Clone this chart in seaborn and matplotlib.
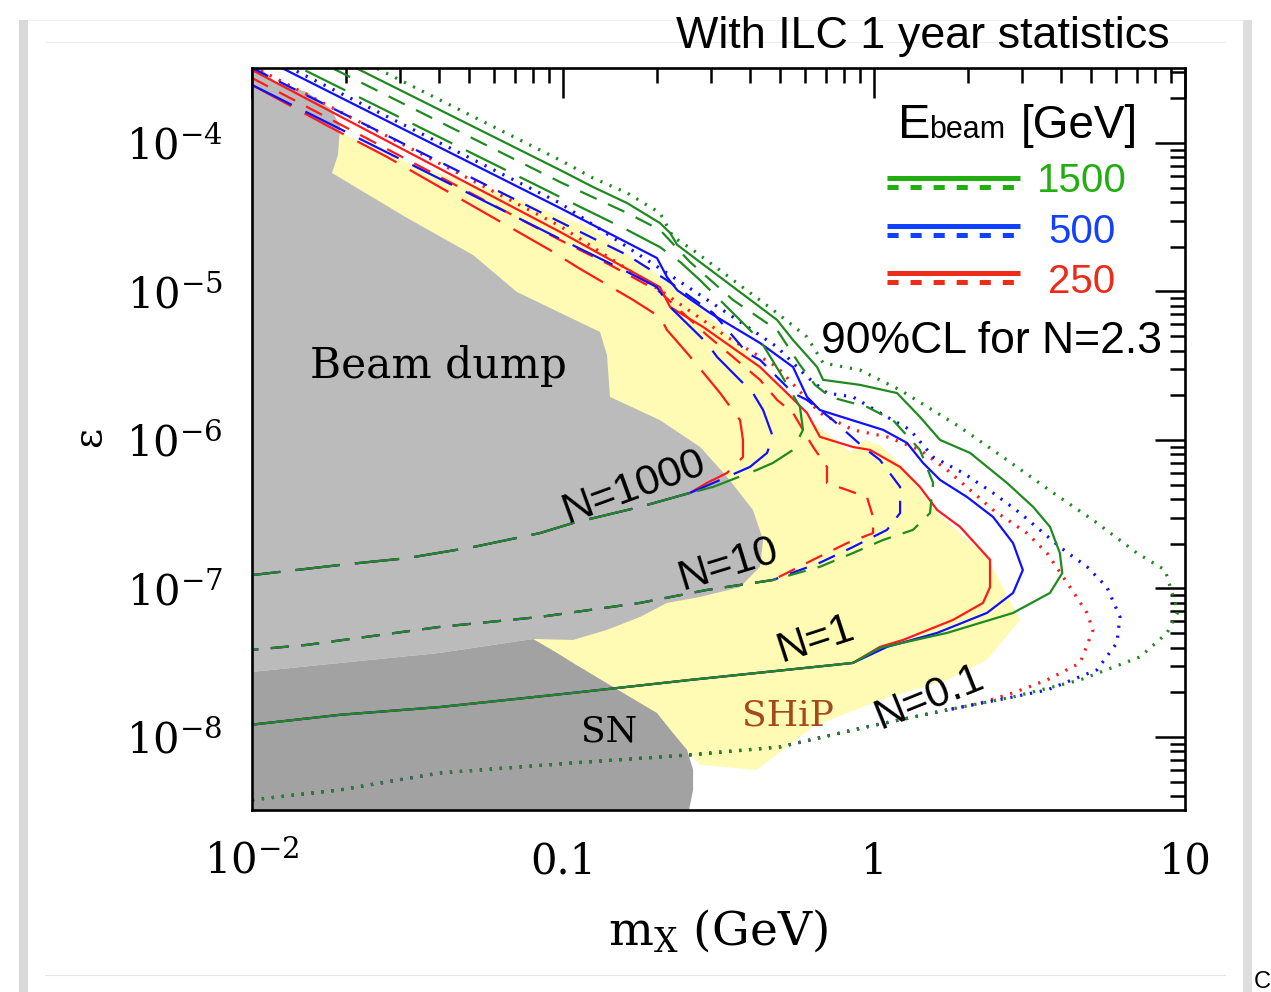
import matplotlib
matplotlib.use("Agg")
import matplotlib.pyplot as plt
from matplotlib.lines import Line2D
from matplotlib.patches import Rectangle
from matplotlib.ticker import FixedLocator, LogLocator, NullFormatter
from matplotlib.transforms import ScaledTranslation
import numpy as np
import pandas as pd
import seaborn as sns

# ------------------------------------------------------------------ data
ENERGIES = ["250", "500", "1500"]
ENERGY_LABELS = ["1500", "500", "250"]

# Beam dump excluded region (m [GeV], epsilon)
BD_M = [0.0100, 0.01186, 0.01503, 0.0178, 0.0192, 0.0189, 0.01808, 0.0315, 0.0514, 0.0711,
        0.1315, 0.1385, 0.1416, 0.205, 0.276, 0.337, 0.408, 0.440, 0.430, 0.371, 0.276,
        0.216, 0.1769, 0.1385, 0.1077, 0.0801, 0.0402, 0.0192, 0.0100]
BD_EPS = [3.62e-4, 2.58e-4, 2.20e-4, 1.72e-4, 1.32e-4, 8.30e-5, 6.28e-5, 3.13e-5, 1.76e-5, 9.92e-6,
          5.34e-6, 3.74e-6, 1.95e-6, 1.36e-6, 8.97e-7, 5.64e-7, 3.38e-7, 2.12e-7, 1.40e-7, 1.02e-7, 8.77e-8,
          7.99e-8, 6.43e-8, 5.26e-8, 4.50e-8, 4.57e-8, 3.68e-8, 3.15e-8, 2.74e-8]

# Supernova region
SN_M = [0.0100, 0.0192, 0.0402, 0.0801, 0.0957, 0.1077, 0.156, 0.2005, 0.226, 0.2506, 0.262, 0.262, 0.2523, 0.0100]
SN_EPS = [2.74e-8, 3.15e-8, 3.68e-8, 4.57e-8, 3.68e-8, 3.15e-8, 1.98e-8, 1.45e-8, 1.06e-8, 8.18e-9, 6.0e-9, 4.40e-9, 2.98e-9, 2.98e-9]

# SHiP sensitivity region
SHIP_M = [0.0192, 0.0329, 0.0661, 0.1221, 0.256, 0.430, 0.622, 0.749, 0.837, 0.936, 1.045, 1.240, 1.596,
          2.307, 2.95, 2.307, 1.718, 1.045, 0.637, 0.420, 0.276, 0.245, 0.078, 0.040, 0.0178]
SHIP_EPS = [1.17e-4, 7.11e-5, 4.47e-5, 2.68e-5, 9.04e-6, 3.20e-6, 1.36e-6, 1.00e-6, 8.30e-7, 1.00e-6, 9.25e-7, 6.58e-7, 3.22e-7,
            1.63e-7, 6.14e-8, 3.30e-8, 2.42e-8, 1.77e-8, 1.17e-8, 6.0e-9, 6.48e-9, 8.5e-9, 4.6e-8, 1.5e-6, 6.09e-5]

# Shared lower branches (same for all beam energies), right to left
LOW_N01_M = [1.718, 0.949, 0.499, 0.256, 0.1077, 0.0402, 0.0192, 0.0100]
LOW_N01_EPS = [1.52e-8, 1.17e-8, 8.57e-9, 7.57e-9, 6.68e-9, 5.72e-9, 4.40e-9, 3.77e-9]
LOW_N1_M = [0.855, 0.256, 0.1077, 0.0402, 0.0192, 0.0100]
LOW_N1_EPS = [3.15e-8, 2.42e-8, 1.98e-8, 1.59e-8, 1.41e-8, 1.21e-8]
LOW_N10_M = [0.473, 0.290, 0.1769, 0.0843, 0.0402, 0.01503, 0.0100]
LOW_N10_EPS = [1.14e-7, 9.77e-8, 7.99e-8, 6.43e-8, 5.51e-8, 4.17e-8, 3.86e-8]
LOW_N1000_M = [0.256, 0.1769, 0.1077, 0.0843, 0.0514, 0.0315, 0.0192, 0.0100]
LOW_N1000_EPS = [4.40e-7, 3.54e-7, 2.76e-7, 2.36e-7, 1.90e-7, 1.60e-7, 1.44e-7, 1.23e-7]

# E_beam = 1500 GeV upper branches
G_DOT_M = [0.0100, 0.0978, 0.1248, 0.1607, 0.205, 0.226, 0.262, 0.488, 0.609, 0.686, 0.901, 1.213, 1.891,
           2.679, 3.77, 5.06, 7.01, 8.63, 9.49, 8.76, 7.17, 4.60, 2.80]
G_DOT_EPS = [8.37e-4, 7.68e-5, 5.81e-5, 4.61e-5, 3.38e-5, 2.33e-5, 1.90e-5, 7.16e-6, 4.94e-6, 3.30e-6, 2.96e-6, 2.17e-6, 1.22e-6,
             7.33e-7, 4.40e-7, 2.89e-7, 1.73e-7, 1.33e-7, 6.95e-8, 5.02e-8, 3.46e-8, 2.42e-8, 1.86e-8]
G_SOL_M = [0.0100, 0.0978, 0.1248, 0.1607, 0.205, 0.221, 0.233, 0.262, 0.488, 0.549, 0.656, 0.686, 0.901, 1.186,
           1.405, 1.631, 2.037, 2.679, 3.25, 3.68, 3.96, 4.03, 3.68, 2.80, 1.718, 1.045]
G_SOL_EPS = [7.16e-4, 6.58e-5, 5.06e-5, 3.94e-5, 2.89e-5, 2.48e-5, 2.06e-5, 1.71e-5, 6.43e-6, 4.71e-6, 3.10e-6, 2.54e-6, 2.35e-6, 2.07e-6,
             1.43e-6, 1.00e-6, 8.18e-7, 5.13e-7, 3.54e-7, 2.60e-7, 1.73e-7, 1.27e-7, 9.33e-8, 6.84e-8, 5.02e-8, 3.98e-8]
G_SD_M = [0.0100, 0.0978, 0.1607, 0.205, 0.256, 0.352, 0.488, 0.578, 0.646, 0.722, 0.949, 1.151, 1.405, 1.549,
          1.514, 1.335, 1.069, 0.855, 0.670]
G_SD_EPS = [5.95e-4, 5.46e-5, 3.38e-5, 2.60e-5, 1.58e-5, 8.77e-6, 5.50e-6, 3.20e-6, 2.35e-6, 1.95e-6, 1.67e-6, 1.36e-6, 8.57e-7, 5.13e-7,
            3.22e-7, 2.48e-7, 2.12e-7, 1.73e-7, 1.40e-7]
G_LD_M = [0.0100, 0.0978, 0.1607, 0.205, 0.238, 0.276, 0.352, 0.430, 0.499, 0.578, 0.591, 0.549, 0.473, 0.420, 0.304]
G_LD_EPS = [4.64e-4, 4.33e-5, 2.60e-5, 1.99e-5, 1.58e-5, 1.19e-5, 7.16e-6, 4.71e-6, 2.83e-6, 1.67e-6, 1.17e-6, 8.57e-7, 7.00e-7, 6.28e-7, 4.83e-7]

# E_beam = 500 GeV upper branches
B_DOT_M = [0.0100, 0.0978, 0.216, 0.337, 0.488, 0.609, 0.706, 0.855, 1.101, 1.306, 1.549, 1.933, 2.415, 2.95,
           3.96, 4.84, 5.61, 6.18, 6.04, 5.21, 3.60, 2.80]
B_DOT_EPS = [4.30e-4, 3.94e-5, 1.33e-5, 7.16e-6, 4.23e-6, 2.66e-6, 2.07e-6, 1.95e-6, 1.43e-6, 1.17e-6, 7.68e-7, 6.00e-7, 4.40e-7, 3.22e-7,
             1.90e-7, 1.40e-7, 1.02e-7, 6.43e-8, 4.30e-8, 2.83e-8, 2.07e-8, 1.86e-8]
B_SOL_M = [0.0100, 0.0978, 0.2005, 0.216, 0.233, 0.297, 0.430, 0.549, 0.609, 0.670, 1.069, 1.277, 1.438, 1.631,
           1.991, 2.415, 2.80, 3.01, 2.80, 2.307, 1.596, 1.101]
B_SOL_EPS = [4.04e-4, 3.65e-5, 1.68e-5, 1.25e-5, 1.02e-5, 7.16e-6, 4.50e-6, 3.10e-6, 1.95e-6, 1.59e-6, 1.17e-6, 9.55e-7, 7.00e-7, 5.38e-7,
             4.13e-7, 3.03e-7, 2.02e-7, 1.33e-7, 9.33e-8, 6.84e-8, 5.02e-8, 4.04e-8]
B_SD_M = [0.0100, 0.0978, 0.1607, 0.216, 0.304, 0.391, 0.430, 0.549, 0.609, 0.738, 0.922, 1.045, 1.213, 1.213,
          1.101, 0.855, 0.670]
B_SD_EPS = [3.20e-4, 2.94e-5, 1.76e-5, 1.19e-5, 7.16e-6, 3.85e-6, 3.46e-6, 2.07e-6, 1.86e-6, 1.36e-6, 8.97e-7, 7.33e-7, 4.83e-7, 3.22e-7,
            2.48e-7, 1.90e-7, 1.49e-7]
B_LD_M = [0.0100, 0.0978, 0.156, 0.2005, 0.221, 0.290, 0.313, 0.408, 0.440, 0.473, 0.453, 0.399, 0.304]
B_LD_EPS = [2.46e-4, 2.26e-5, 1.40e-5, 1.07e-5, 7.86e-6, 4.50e-6, 3.62e-6, 2.07e-6, 1.59e-6, 1.05e-6, 8.18e-7, 6.58e-7, 5.13e-7]

# E_beam = 250 GeV upper branches
R_DOT_M = [0.0100, 0.0978, 0.205, 0.337, 0.488, 0.670, 0.855, 1.101, 1.405, 1.718, 2.037, 2.415, 3.10, 3.60,
           4.27, 4.84, 5.06, 4.60, 3.60, 2.80, 2.193]
R_DOT_EPS = [3.30e-4, 2.76e-5, 1.02e-5, 4.94e-6, 3.10e-6, 1.52e-6, 1.17e-6, 1.05e-6, 8.57e-7, 6.28e-7, 4.61e-7, 3.38e-7, 2.36e-7, 1.73e-7,
             1.02e-7, 6.84e-8, 5.26e-8, 3.15e-8, 2.42e-8, 1.98e-8, 1.69e-8]
R_SOL_M = [0.0100, 0.0978, 0.205, 0.221, 0.282, 0.430, 0.525, 0.609, 0.670, 0.855, 0.971, 1.213, 1.405, 1.596,
           1.891, 2.361, 2.361, 2.241, 1.795, 1.240, 1.045]
R_SOL_EPS = [3.10e-4, 2.52e-5, 1.07e-5, 7.86e-6, 5.77e-6, 3.10e-6, 2.07e-6, 1.52e-6, 1.05e-6, 8.97e-7, 8.57e-7, 6.58e-7, 4.83e-7, 3.38e-7,
             2.60e-7, 1.56e-7, 1.02e-7, 7.99e-8, 6.14e-8, 4.50e-8, 4.04e-8]
R_SD_M = [0.0100, 0.0978, 0.1416, 0.205, 0.290, 0.352, 0.430, 0.488, 0.549, 0.637, 0.706, 0.706, 0.949, 0.993,
          0.993, 0.819, 0.637]
R_SD_EPS = [2.74e-4, 2.22e-5, 1.51e-5, 9.92e-6, 5.09e-6, 3.62e-6, 2.54e-6, 1.86e-6, 1.52e-6, 8.97e-7, 6.58e-7, 5.13e-7, 4.13e-7, 3.03e-7,
            2.36e-7, 2.02e-7, 1.56e-7]
R_LD_M = [0.0100, 0.0178, 0.0272, 0.0908, 0.111, 0.168, 0.205, 0.216, 0.2506, 0.290, 0.320, 0.371, 0.379, 0.379, 0.337, 0.290]
R_LD_EPS = [2.46e-4, 1.28e-4, 8.05e-5, 1.90e-5, 1.46e-5, 8.77e-6, 6.73e-6, 5.50e-6, 3.85e-6, 2.66e-6, 2.07e-6, 1.36e-6, 1.00e-6,
            7.68e-7, 6.00e-7, 5.13e-7]

X_TICKS = [0.01, 0.1, 1, 10]
X_TICKLABELS = ["$10^{-2}$", "0.1", "1", "10"]
Y_TICKS = [1e-8, 1e-7, 1e-6, 1e-5, 1e-4]
Y_TICKLABELS = ["$10^{-8}$", "$10^{-7}$", "$10^{-6}$", "$10^{-5}$", "$10^{-4}$"]

# ------------------------------------------------------------------ style
sns.set_theme(style="white")
plt.rcParams["font.family"] = ["Liberation Sans", "DejaVu Sans"]
plt.rcParams["mathtext.fontset"] = "dejavuserif"
plt.rcParams["lines.scale_dashes"] = False
plt.rcParams["text.color"] = "black"

W, H = 1271, 992
fig = plt.figure(figsize=(W / 100, H / 100), dpi=100)
fig.patch.set_facecolor("white")
ax = fig.add_axes([252 / W, 1 - 810 / H, 933 / W, 742 / H])
ax.set_xscale("log")
ax.set_yscale("log")
ax.set_xlim(0.01, 10)
ax.set_ylim(10 ** -8.492, 10 ** -3.495)
ax.set_facecolor("white")


def P(px, py):
    return (px / W, 1 - py / H)


# regions
ax.fill(SHIP_M, SHIP_EPS, color="#fffbb4", lw=0, zorder=1)
ax.fill(BD_M, BD_EPS, color="#bbbbbb", lw=0, zorder=1.2)
ax.fill(SN_M, SN_EPS, color="#a2a2a2", lw=0, zorder=1.3)

LINE_COL = {"1500": "#1f8a1f", "500": "#1010ff", "250": "#ff1a1a"}
LEG_COL = {"1500": "#22ad10", "500": "#1240ff", "250": "#ee2a18"}
STYLES = {
    "dot": dict(ls=(0, (1.6, 5.6)), lw=2.3),
    "sol": dict(ls="-", lw=1.6),
    "sd": dict(ls=(0, (13, 9.0)), lw=1.6),
    "ld": dict(ls=(0, (32, 11)), lw=1.6),
}
UPPER = {
    "1500": {"dot": (G_DOT_M, G_DOT_EPS), "sol": (G_SOL_M, G_SOL_EPS), "sd": (G_SD_M, G_SD_EPS), "ld": (G_LD_M, G_LD_EPS)},
    "500": {"dot": (B_DOT_M, B_DOT_EPS), "sol": (B_SOL_M, B_SOL_EPS), "sd": (B_SD_M, B_SD_EPS), "ld": (B_LD_M, B_LD_EPS)},
    "250": {"dot": (R_DOT_M, R_DOT_EPS), "sol": (R_SOL_M, R_SOL_EPS), "sd": (R_SD_M, R_SD_EPS), "ld": (R_LD_M, R_LD_EPS)},
}
LOWER = {"dot": (LOW_N01_M, LOW_N01_EPS), "sol": (LOW_N1_M, LOW_N1_EPS),
         "sd": (LOW_N10_M, LOW_N10_EPS), "ld": (LOW_N1000_M, LOW_N1000_EPS)}


def draw(m, eps, color, key):
    df = pd.DataFrame({"m": list(m), "eps": list(eps)})
    sns.lineplot(data=df, x="m", y="eps", ax=ax, sort=False, estimator=None,
                 color=color, legend=False)
    ln = ax.lines[-1]
    ln.set_linestyle(STYLES[key]["ls"])
    ln.set_linewidth(STYLES[key]["lw"])
    ln.set_dash_capstyle("butt")
    ln.set_zorder(3)


# upper branches (each energy), ending where they join the common lower branch
for e in ENERGIES:
    for key in ["ld", "sd", "sol", "dot"]:
        um, ue = UPPER[e][key]
        lm, le = LOWER[key]
        draw(list(um) + [lm[0]], list(ue) + [le[0]], LINE_COL[e], key)
# common lower branches, identical for all energies (green drawn last, on top)
for e in ENERGIES:
    for key in ["ld", "sd", "sol", "dot"]:
        lm, le = LOWER[key]
        draw(lm, le, LINE_COL[e], key)

ax.set_xlabel("")
ax.set_ylabel("")

# ticks
for s in ax.spines.values():
    s.set_color("black")
    s.set_linewidth(1.9)
    s.set_zorder(5)
ax.xaxis.set_major_locator(FixedLocator(X_TICKS))
ax.yaxis.set_major_locator(FixedLocator(Y_TICKS))
ax.xaxis.set_minor_locator(LogLocator(base=10, subs=np.arange(2, 10)))
ax.yaxis.set_minor_locator(LogLocator(base=10, subs=np.arange(2, 10)))
ax.xaxis.set_minor_formatter(NullFormatter())
ax.yaxis.set_minor_formatter(NullFormatter())
ax.tick_params(which="both", direction="in", top=True, right=True, color="black", width=1.8,
               labelcolor="black")
ax.tick_params(which="major", length=21.5)
ax.tick_params(which="minor", length=10.5)
ax.tick_params(axis="x", which="major", pad=46, labelsize=30)
ax.tick_params(axis="y", which="major", pad=21, labelsize=30)
ax.set_xticklabels(X_TICKLABELS, va="baseline", fontfamily="DejaVu Serif")
ax.set_yticklabels(Y_TICKLABELS, va="baseline", fontfamily="DejaVu Serif")
for t in ax.get_yticklabels():
    t.set_transform(t.get_transform() + ScaledTranslation(0, -12.0 / 72, fig.dpi_scale_trans))

# axis labels
fig.text(*P(718, 945), r"m$_{\rm X}$ (GeV)", ha="center", va="baseline", fontsize=34,
         fontfamily="DejaVu Serif")
fig.text(*P(90, 437), "ε", ha="center", va="center", rotation=90, fontsize=28,
         fontfamily="DejaVu Serif")

# region labels
SERIF = "DejaVu Serif"
fig.text(*P(310, 378), "Beam dump", ha="left", va="baseline", fontsize=30.5, fontfamily=SERIF)
fig.text(*P(609, 741), "SN", ha="center", va="baseline", fontsize=26, fontfamily=SERIF)
fig.text(*P(742, 725), "SHiP", ha="left", va="baseline", fontsize=26, fontfamily=SERIF, color="#a4491b")

# contour labels
for s, (px, py), rot in [("N=1000", (634, 487), 20), ("N=10", (728, 564), 17),
                          ("N=1", (816, 639), 18), ("N=0.1", (929, 697), 22)]:
    fig.text(*P(px, py), s, ha="center", va="center", rotation=rot, rotation_mode="anchor",
             fontsize=30.5, zorder=10)

# legend block
fig.text(*P(898, 138), "E", ha="left", va="baseline", fontsize=35)
fig.text(*P(929, 138), "beam", ha="left", va="baseline", fontsize=22)
fig.text(*P(1138, 138), "[GeV]", ha="right", va="baseline", fontsize=33)
leg_rows = [(178, 192, 1037), (226, 243, 1048), (273, 293, 1048)]
for lab, (ly, by, tx) in zip(ENERGY_LABELS, leg_rows):
    x0, x1 = 887, 1020
    fig.add_artist(Line2D([x0 / W, x1 / W], [1 - ly / H, 1 - ly / H], color=LEG_COL[lab], lw=3.6,
                          solid_capstyle="butt"))
    fig.add_artist(Line2D([x0 / W, x1 / W], [1 - (ly + 9) / H, 1 - (ly + 9) / H], color=LEG_COL[lab], lw=3.6,
                          ls=(0, (8.0, 8.6)), dash_capstyle="butt"))
    fig.text(*P(tx, by), lab, ha="left", va="baseline", fontsize=29, color=LEG_COL[lab])
fig.text(*P(1162, 353), "90%CL for N=2.3", ha="right", va="baseline", fontsize=32)

# title
fig.text(*P(1170, 48), "With ILC 1 year statistics", ha="right", va="baseline", fontsize=32.3)

# slide frame decorations
fig.add_artist(Rectangle((19 / W, 0), 9 / W, 1 - 20 / H, transform=fig.transFigure,
                         color="#d9d9d9", lw=0, zorder=-1))
fig.add_artist(Rectangle((1243 / W, 0), 9 / W, 1 - 20 / H, transform=fig.transFigure,
                         color="#dedede", lw=0, zorder=-1))
fig.add_artist(Line2D([45 / W, 1225 / W], [1 - 42 / H, 1 - 42 / H], color="#eeeeee", lw=0.8))
fig.add_artist(Line2D([45 / W, 1225 / W], [1 - 975 / H, 1 - 975 / H], color="#e4e4e4", lw=0.8))
fig.add_artist(Line2D([28 / W, 1243 / W], [1 - 20 / H, 1 - 20 / H], color="#efefef", lw=0.8))
fig.text(*P(1254, 988), "C", ha="left", va="baseline", fontsize=17)

fig.savefig("out.png", dpi=100, facecolor="white")
